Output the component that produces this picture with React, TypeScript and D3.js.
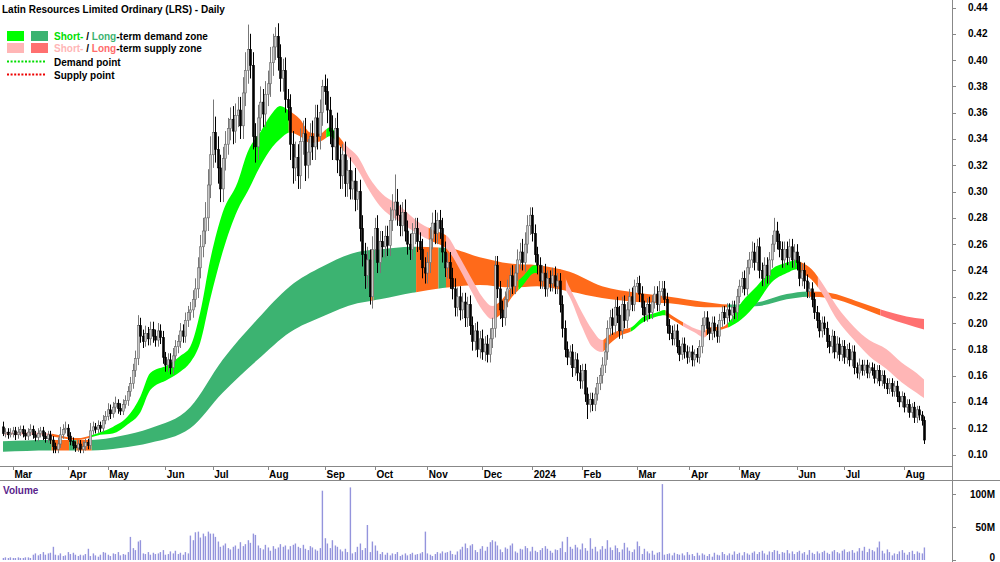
import React from "react";
import * as d3 from "d3";

// daily bars, prices in cents (0.115 -> 11.5), volume in millions
const firstOpen = 12.1;
const closes = [
  11.6, 11.7, 11.5, 11.6, 11.8, 11.5, 11.7, 11.9, 11.6, 11.4,
  11.7, 11.9, 11.5, 11.3, 11.6, 11.8, 11.4, 11.2, 11.5, 11.1,
  10.6, 10.4, 10.8, 11.5, 11.9, 12.0, 11.4, 11.0, 10.7, 10.5,
  10.8, 10.4, 10.6, 10.9, 10.7, 11.8, 12.1, 11.9, 12.2, 12.0,
  12.6, 12.9, 13.4, 13.1, 13.6, 13.9, 13.5, 13.3, 13.8, 14.1,
  14.8, 15.4, 16.4, 17.3, 19.8, 19.0, 18.6, 19.2, 18.8, 19.5,
  19.0, 18.7, 19.4, 18.9, 17.4, 16.8, 17.2, 16.6, 17.5, 18.2,
  18.6, 19.4, 19.0, 20.2, 20.8, 21.0, 21.8, 22.6, 24.2, 25.8,
  27.0, 28.0, 30.5, 32.8, 34.5, 33.2, 31.8, 30.2, 32.5, 33.6,
  34.8, 35.5, 34.6, 35.8, 36.2, 35.0, 37.5, 39.2, 40.8, 39.6,
  34.2, 33.4, 35.6, 36.8, 35.9, 37.4, 38.2, 39.8, 41.0, 41.8,
  40.2, 38.6, 39.2, 37.0, 36.4, 33.6, 31.8, 32.6, 31.2, 33.8,
  34.4, 32.0, 33.0, 34.2, 33.4, 35.6, 34.2, 36.0, 38.0, 37.6,
  36.2, 34.6, 33.4, 34.8, 32.4, 31.2, 32.8, 30.6, 31.6, 30.2,
  30.8, 29.4, 30.0, 27.2, 25.2, 23.6, 24.8, 22.0, 25.6, 27.2,
  24.6, 26.2, 25.8, 26.6, 25.9, 27.8, 28.6, 29.2, 28.2, 27.4,
  28.4, 27.0, 26.0, 25.6, 26.8, 27.2, 26.2, 25.6, 24.2, 23.8,
  24.6, 26.4, 27.6, 26.8, 27.8, 27.2, 25.4, 24.2, 24.6, 23.4,
  22.6, 21.2, 22.0, 21.0, 21.6, 20.4, 21.4, 19.8, 18.6, 19.4,
  18.0, 18.8, 17.8, 18.4, 17.6, 18.8, 19.6, 24.4, 22.6, 21.0,
  20.4, 21.8, 22.6, 23.6, 22.8, 23.8, 24.8, 25.4, 24.6, 26.0,
  27.4, 28.2, 26.8, 25.2, 24.4, 23.2, 23.8, 22.6, 23.4, 23.0,
  23.6, 22.8, 23.2, 21.4, 19.6, 18.0, 17.4, 17.8, 16.6, 17.2,
  16.2, 15.6, 16.4, 14.6, 13.8, 14.2, 13.8, 14.6, 15.4, 16.0,
  16.8, 17.8, 19.6, 20.4, 19.8, 21.2, 20.6, 19.4, 21.4, 20.2,
  21.0, 22.0, 21.4, 22.8, 23.0, 22.2, 21.2, 20.6, 21.4, 20.8,
  21.6, 22.2, 21.4, 22.4, 22.6, 21.8, 19.8, 19.2, 18.8, 19.4,
  18.2, 17.6, 18.4, 17.8, 17.4, 17.8, 17.2, 17.6, 17.4, 18.2,
  19.8, 20.4, 19.6, 19.2, 20.0, 19.4, 19.0, 20.2, 20.8, 20.4,
  21.0, 20.6, 21.2, 20.8, 22.0, 22.8, 23.4, 22.6, 24.2, 24.8,
  25.4, 24.6, 25.8, 24.0, 23.4, 24.4, 23.6, 24.8, 26.0, 27.0,
  26.2, 25.6, 24.8, 25.6, 25.0, 25.8, 24.8, 25.4, 24.6, 23.4,
  24.0, 23.2, 22.4, 22.6, 21.8, 20.8, 20.2, 19.4, 20.0, 19.6,
  18.6, 18.2, 19.0, 17.8, 18.4, 17.6, 18.2, 17.4, 18.0, 17.2,
  17.8, 16.6, 16.2, 16.8, 16.4, 16.8, 16.2, 16.6, 16.4, 15.8,
  16.4, 15.6, 16.0, 15.4, 15.0, 15.4, 14.8, 15.2, 14.4, 14.0,
  14.4, 13.6, 13.8, 13.2, 13.6, 12.8, 13.4, 13.0, 12.6, 11.1,
];
const upperWick = [
  0.4, 0.3, 0.3, 0.4, 0.3, 0.3, 0.4, 0.3, 0.3, 0.3,
  0.3, 0.4, 0.3, 0.3, 0.4, 0.3, 0.3, 0.3, 0.3, 0.3,
  0.3, 0.3, 0.5, 0.6, 0.4, 0.5, 0.3, 0.3, 0.3, 0.3,
  0.3, 0.3, 0.4, 0.3, 0.3, 0.6, 0.4, 0.3, 0.4, 0.3,
  0.4, 0.4, 0.5, 0.4, 0.4, 0.5, 0.3, 0.4, 0.4, 0.4,
  0.4, 0.5, 0.5, 0.6, 0.8, 0.6, 0.5, 0.6, 0.5, 0.6,
  0.6, 0.5, 0.6, 0.5, 0.5, 0.4, 0.5, 0.5, 0.6, 0.5,
  0.5, 0.6, 0.5, 0.6, 0.5, 0.6, 0.7, 0.8, 0.8, 0.9,
  1.0, 1.2, 1.2, 1.4, 2.5, 1.2, 1.0, 1.0, 0.9, 1.0,
  0.8, 0.9, 1.0, 0.9, 1.0, 1.0, 1.2, 1.4, 1.9, 1.2,
  1.0, 1.0, 1.0, 1.2, 1.0, 1.0, 1.0, 1.2, 1.0, 0.7,
  1.0, 1.0, 0.9, 1.0, 0.8, 1.0, 1.0, 1.2, 1.0, 1.0,
  1.0, 1.2, 1.0, 1.0, 1.2, 1.0, 1.0, 1.0, 0.5, 0.9,
  1.0, 1.0, 1.2, 0.8, 1.2, 1.0, 0.8, 1.0, 0.8, 1.0,
  0.8, 1.0, 0.8, 0.9, 1.0, 0.9, 1.0, 0.8, 1.0, 0.8,
  1.0, 0.8, 0.8, 0.8, 0.8, 1.0, 1.2, 2.1, 1.0, 0.8,
  0.8, 1.0, 0.8, 0.8, 0.8, 0.8, 0.8, 0.7, 0.8, 0.8,
  0.8, 0.9, 0.8, 1.0, 0.6, 0.8, 0.8, 0.8, 0.7, 0.8,
  0.8, 0.8, 0.7, 0.8, 0.7, 0.7, 0.6, 0.7, 0.7, 0.6,
  0.7, 0.6, 0.7, 0.6, 0.7, 0.8, 0.8, 0.7, 0.7, 0.6,
  0.7, 0.6, 0.7, 0.6, 0.8, 0.6, 0.8, 0.7, 1.0, 0.9,
  0.8, 0.6, 0.6, 0.7, 0.6, 0.6, 0.6, 0.7, 0.6, 0.6,
  0.6, 0.7, 0.6, 0.6, 0.7, 0.6, 0.6, 0.5, 0.6, 0.6,
  0.5, 0.6, 0.5, 0.5, 0.5, 0.5, 0.5, 0.5, 0.5, 0.6,
  0.6, 0.7, 0.6, 0.6, 0.7, 0.6, 0.8, 0.7, 0.6, 0.7,
  0.6, 0.6, 0.7, 0.5, 0.5, 0.6, 0.6, 0.5, 0.5, 0.6,
  0.5, 0.6, 0.6, 0.8, 0.6, 0.6, 0.5, 0.5, 0.6, 0.5,
  0.5, 0.5, 0.5, 0.5, 0.5, 0.4, 0.5, 0.4, 0.5, 0.5,
  0.6, 0.5, 0.5, 0.5, 0.5, 0.5, 0.5, 0.5, 0.5, 0.5,
  0.5, 0.5, 0.5, 0.5, 0.6, 0.5, 0.5, 0.6, 0.6, 0.6,
  0.8, 0.7, 0.6, 0.7, 0.6, 0.6, 0.6, 0.6, 0.7, 1.0,
  0.7, 0.6, 0.6, 0.6, 0.6, 0.6, 0.6, 0.6, 0.6, 0.5,
  0.5, 0.6, 0.5, 0.5, 0.5, 0.5, 0.5, 0.6, 0.5, 0.5,
  0.5, 0.5, 0.5, 0.4, 0.6, 0.5, 0.5, 0.5, 0.4, 0.5,
  0.5, 0.5, 0.4, 0.5, 0.4, 0.4, 0.4, 0.4, 0.4, 0.5,
  0.4, 0.4, 0.4, 0.4, 0.4, 0.4, 0.4, 0.4, 0.4, 0.4,
  0.4, 0.3, 0.4, 0.4, 0.3, 0.4, 0.3, 0.3, 0.3, 0.3,
];
const lowerWick = [
  0.2, 0.3, 0.3, 0.2, 0.3, 0.4, 0.3, 0.3, 0.3, 0.3,
  0.3, 0.3, 0.3, 0.3, 0.3, 0.3, 0.3, 0.3, 0.3, 0.3,
  0.5, 0.3, 0.3, 0.3, 0.3, 0.3, 0.3, 0.3, 0.3, 0.3,
  0.3, 0.3, 0.3, 0.3, 0.3, 0.3, 0.3, 0.3, 0.3, 0.3,
  0.3, 0.3, 0.3, 0.4, 0.3, 0.4, 0.4, 0.3, 0.3, 0.3,
  0.4, 0.4, 0.4, 0.5, 0.5, 0.5, 0.5, 0.4, 0.5, 0.5,
  0.5, 0.5, 0.5, 0.5, 0.5, 0.5, 0.5, 0.5, 0.5, 0.4,
  0.5, 0.5, 0.5, 0.5, 0.5, 0.6, 0.6, 0.6, 0.7, 0.8,
  0.8, 1.0, 1.0, 1.0, 1.0, 1.0, 1.2, 1.0, 1.0, 0.9,
  0.8, 0.9, 1.0, 0.9, 0.9, 1.0, 1.0, 1.0, 1.0, 1.0,
  1.0, 1.2, 1.0, 1.0, 1.0, 1.0, 0.9, 1.0, 1.0, 1.0,
  1.0, 1.0, 1.0, 1.0, 1.0, 1.2, 1.2, 1.0, 1.0, 1.0,
  1.0, 1.2, 1.0, 1.0, 1.0, 1.0, 1.0, 1.0, 1.0, 1.0,
  1.0, 1.0, 1.0, 1.0, 1.0, 1.0, 1.0, 1.0, 1.0, 0.8,
  0.8, 0.9, 0.8, 1.0, 0.9, 1.0, 0.9, 0.6, 0.9, 0.8,
  0.8, 0.8, 0.8, 0.8, 0.8, 0.8, 0.8, 0.8, 0.8, 0.8,
  0.8, 0.8, 0.8, 0.8, 0.8, 0.8, 0.8, 0.8, 0.8, 0.8,
  0.8, 0.8, 0.8, 0.8, 0.8, 0.8, 0.8, 0.7, 0.8, 0.8,
  0.8, 0.7, 0.7, 0.8, 0.7, 0.7, 0.7, 0.7, 0.7, 0.7,
  0.6, 0.7, 0.6, 0.7, 0.6, 0.6, 0.7, 0.7, 0.7, 0.7,
  0.7, 0.6, 0.6, 0.6, 0.6, 0.6, 0.6, 0.7, 0.6, 0.7,
  0.7, 0.7, 0.6, 0.6, 0.7, 0.6, 0.6, 0.6, 0.6, 0.6,
  0.6, 0.6, 0.6, 0.6, 0.7, 0.6, 0.6, 0.6, 0.7, 0.6,
  0.6, 0.6, 0.6, 0.6, 1.1, 0.6, 0.5, 0.5, 0.5, 0.5,
  0.6, 0.6, 0.6, 0.6, 0.7, 0.6, 0.6, 0.6, 0.6, 0.6,
  0.6, 0.5, 0.5, 0.5, 0.5, 0.6, 0.6, 0.5, 0.5, 0.5,
  0.5, 0.5, 0.5, 0.5, 0.5, 0.5, 0.6, 0.5, 0.5, 0.5,
  0.5, 0.5, 0.4, 0.5, 0.5, 0.4, 0.5, 0.5, 0.4, 0.5,
  0.5, 0.5, 0.5, 0.5, 0.5, 0.5, 0.5, 0.5, 0.5, 0.5,
  0.5, 0.5, 0.5, 0.5, 0.5, 0.5, 0.5, 0.5, 0.5, 0.5,
  0.6, 0.6, 0.6, 0.6, 0.6, 0.6, 0.6, 0.6, 0.6, 0.6,
  0.6, 0.6, 0.6, 0.6, 0.6, 0.6, 0.6, 0.6, 0.6, 0.6,
  0.6, 0.6, 0.5, 0.5, 0.6, 0.5, 0.6, 0.5, 0.5, 0.5,
  0.5, 0.5, 0.5, 0.5, 0.5, 0.5, 0.5, 0.5, 0.5, 0.5,
  0.5, 0.5, 0.4, 0.5, 0.4, 0.4, 0.4, 0.4, 0.4, 0.4,
  0.4, 0.4, 0.4, 0.4, 0.4, 0.4, 0.4, 0.4, 0.4, 0.4,
  0.4, 0.4, 0.4, 0.4, 0.4, 0.4, 0.4, 0.4, 0.4, 0.3,
];
const volumes = [
  3, 4, 3, 4, 3, 3, 4, 3, 3, 4,
  4, 3, 8, 10, 7, 9, 12, 8, 10, 11,
  20, 8, 7, 10, 6, 7, 12, 9, 11, 8,
  6, 8, 7, 9, 17, 6, 10, 7, 5, 8,
  12, 11, 8, 6, 10, 9, 12, 7, 9, 8,
  12, 35, 18, 15, 28, 30, 10, 9, 12, 8,
  11, 9, 10, 12, 15, 8, 9, 13, 10, 14,
  9, 11, 8, 12, 10, 37, 30, 42, 43, 34,
  40, 36, 43, 40, 40, 35, 28, 20, 22, 25,
  18, 16, 20, 22, 17, 27, 21, 24, 30, 26,
  40, 38, 22, 18, 16, 23, 19, 14, 21, 17,
  19, 24, 20, 22, 16, 21, 23, 25, 20, 18,
  23, 17, 15, 21, 19, 16, 14, 18, 105, 33,
  25, 18, 30, 22, 20, 16, 13, 17, 12, 110,
  10, 12, 20, 25, 15, 18, 53, 12, 28, 22,
  14, 9, 12, 8, 11, 7, 10, 9, 12, 6,
  8, 10, 7, 9, 11, 8, 9, 10, 12, 43,
  10, 8, 6, 9, 12, 10, 13, 11, 12, 14,
  9, 8, 13, 16, 20, 25, 18, 22, 24, 15,
  12, 17, 21, 14, 20, 27, 30, 28, 22, 16,
  12, 19, 17, 22, 25, 13, 11, 17, 16, 21,
  18, 13, 20, 14, 12, 15, 18, 21, 17, 14,
  11, 16, 15, 18, 28, 12, 35, 20, 17, 23,
  19, 16, 25, 18, 14, 33, 17, 20, 13, 16,
  21, 17, 30, 19, 15, 22, 18, 12, 16, 26,
  19, 14, 12, 16, 28, 21, 9, 17, 13, 10,
  14, 8, 11, 12, 115, 8, 9, 10, 7, 11,
  9, 8, 10, 7, 12, 8, 9, 6, 11, 7,
  10, 8, 6, 9, 5, 11, 8, 7, 12, 9,
  7, 10, 8, 13, 9, 11, 7, 12, 10, 8,
  11, 13, 9, 12, 14, 10, 8, 13, 12, 15,
  14, 9, 12, 11, 15, 10, 13, 9, 12, 14,
  10, 12, 8, 15, 11, 9, 13, 10, 12, 14,
  11, 9, 13, 15, 12, 10, 14, 16, 12, 13,
  15, 11, 13, 18, 14, 20, 12, 17, 15, 13,
  19, 28, 14, 10, 16, 12, 7, 10, 9, 13,
  15, 11, 8, 12, 14, 9, 13, 11, 10, 19,
];

// short-term zone edges, sampled at bar indexes
const stIdx = [0, 10, 19, 25, 30, 35, 39, 44, 50, 55, 59, 66, 71, 75, 79, 83, 88, 94, 98, 103, 108, 111, 115, 119, 123, 127, 131, 134, 138, 142, 147, 151, 159, 167, 172, 178, 183, 188, 192, 196, 199, 204, 208, 213, 215, 220, 223, 227, 232, 236, 240, 243, 248, 252, 256, 262, 265, 267, 273, 277, 281, 283, 288, 291, 296, 302, 308, 314, 318, 320, 324, 328, 334, 341, 347, 354, 360, 366, 369];
const stLo = [11.5, 11.5, 11.4, 11.2, 11.1, 11.3, 11.5, 11.6, 12.3, 13.2, 14.9, 15.7, 16.3, 17.0, 18.5, 21.8, 25.4, 28.6, 30.0, 31.9, 33.4, 34.0, 34.5, 34.2, 33.7, 33.8, 34.2, 33.7, 32.7, 31.7, 30.0, 28.9, 27.7, 26.7, 26.2, 25.6, 24.1, 22.3, 21.0, 20.3, 20.6, 22.0, 22.8, 23.8, 23.8, 23.4, 23.1, 22.0, 19.7, 18.2, 17.8, 18.4, 19.1, 19.4, 20.0, 20.5, 20.6, 20.4, 19.7, 19.3, 18.9, 19.3, 19.5, 19.7, 20.3, 21.5, 23.1, 23.8, 24.1, 23.8, 23.3, 22.3, 20.3, 18.7, 17.5, 16.5, 15.5, 14.7, 14.3];
const stHi = [11.7, 11.7, 11.6, 11.35, 11.25, 11.45, 11.7, 12.1, 12.9, 14.4, 16.2, 16.8, 17.5, 18.2, 20.8, 24.8, 28.4, 30.7, 33.0, 34.5, 36.0, 36.5, 36.1, 35.5, 34.5, 34.4, 34.9, 34.3, 33.4, 32.7, 31.0, 30.0, 28.9, 27.6, 27.1, 26.6, 25.0, 23.3, 22.0, 21.3, 21.6, 22.8, 23.5, 24.4, 24.3, 24.1, 24.1, 22.7, 20.8, 19.5, 18.7, 19.1, 19.5, 19.7, 20.4, 20.8, 21.0, 20.7, 20.0, 19.6, 19.4, 19.7, 19.7, 20.1, 21.6, 22.8, 24.1, 24.6, 24.8, 24.6, 24.1, 23.1, 21.3, 19.7, 18.7, 18.0, 17.0, 16.2, 15.7];

// long-term zone edges
const ltIdx = [0, 19, 35, 47, 59, 75, 88, 102, 115, 128, 142, 151, 164, 178, 191, 204, 214, 227, 240, 254, 267, 281, 291, 303, 314, 323, 331, 343, 354, 362, 369];
const ltLo = [10.2, 10.3, 10.3, 10.5, 10.9, 12.0, 14.7, 17.2, 19.3, 20.5, 21.5, 21.8, 22.3, 22.7, 22.9, 22.7, 22.8, 22.4, 21.9, 21.6, 21.5, 21.2, 21.2, 21.3, 21.8, 22.0, 21.9, 21.2, 20.4, 19.9, 19.5];
const ltHi = [11.0, 11.1, 11.1, 11.4, 12.0, 13.6, 17.2, 20.3, 22.8, 24.3, 25.4, 25.6, 25.8, 25.7, 25.0, 24.5, 24.4, 23.9, 22.8, 22.3, 22.0, 21.6, 21.4, 21.6, 22.2, 22.4, 22.3, 21.6, 20.9, 20.5, 20.3];

// zone state by bar range: d = demand, s = supply, w = warning
const stRuns: [number, number, string][] = [
  [0, 19, "s"], [20, 35, "w"], [36, 114, "d"], [115, 129, "w"], [130, 133, "d"], [134, 136, "w"],
  [137, 170, "s"], [171, 177, "w"], [178, 197, "s"], [198, 206, "w"], [207, 214, "d"], [215, 225, "w"],
  [226, 240, "s"], [241, 251, "w"], [252, 265, "d"], [266, 272, "w"], [273, 281, "s"], [282, 290, "w"],
  [291, 319, "d"], [320, 326, "w"], [327, 369, "s"],
];
const ltRuns: [number, number, string][] = [
  [0, 19, "d"], [20, 26, "w"], [27, 29, "d"], [30, 35, "w"], [36, 147, "d"], [148, 148, "w"],
  [149, 165, "d"], [166, 174, "w"], [175, 177, "d"], [178, 290, "w"], [291, 322, "d"], [323, 351, "w"],
  [352, 369, "s"],
];

const monthLabels = ["Mar", "Apr", "May", "Jun", "Jul", "Aug", "Sep", "Oct", "Nov", "Dec", "2024", "Feb", "Mar", "Apr", "May", "Jun", "Jul", "Aug"];
const monthIdx = [4, 26, 42, 65, 84, 106, 129, 149, 170, 192, 212, 232, 254, 275, 295, 318, 337, 361];
const priceTicks = [10, 12, 14, 16, 18, 20, 22, 24, 26, 28, 30, 32, 34, 36, 38, 40, 42, 44];
const volumeTicks = [0, 50, 100];

const FONT = "'Liberation Sans', Arial, sans-serif";
const colors: Record<string, Record<string, string>> = {
  st: { d: "#00ff00", s: "#ffb6b6", w: "#ff6a1a" },
  lt: { d: "#3cb371", s: "#ff7070", w: "#ff6a1a" },
};

export default function App() {
  const n = closes.length;
  const x = d3.scaleLinear().domain([0, n - 1]).range([3, 924]);
  const y = d3.scaleLinear().domain([10, 44]).range([454.5, 7.5]);
  const yv = d3.scaleLinear().domain([0, 100]).range([560, 494]);

  const band = (idx: number[], lo: number[], hi: number[]) =>
    d3.area<number>()
      .x(k => x(idx[k]))
      .y0(k => y(lo[k]))
      .y1(k => y(hi[k]))
      .curve(d3.curveMonotoneX)(d3.range(idx.length)) as string;

  const stPath = band(stIdx, stLo, stHi);
  const ltPath = band(ltIdx, ltLo, ltHi);
  const step = x(1) - x(0);

  const bars = closes.map((c, i) => {
    const o = i === 0 ? firstOpen : closes[i - 1];
    return { i, o, c, h: Math.max(o, c) + upperWick[i], l: Math.min(o, c) - lowerWick[i], up: c >= o };
  });

  const runClip = (name: string, runs: [number, number, string][]) =>
    runs.map(([a, b], k) => (
      <clipPath id={`${name}${k}`} key={`${name}${k}`}>
        <rect x={x(a) - step / 2} y={0} width={x(b) - x(a) + step} height={470} />
      </clipPath>
    ));

  return (
    <svg width={1000} height={562} style={{ position: "absolute", left: 0, top: 0, background: "#fff" }} fontFamily={FONT}>
      <defs>
        {runClip("lt", ltRuns)}
        {runClip("st", stRuns)}
      </defs>

      {/* zones */}
      {ltRuns.map(([, , s], k) => (
        <path key={`lt${k}`} d={ltPath} fill={colors.lt[s]} clipPath={`url(#lt${k})`} />
      ))}
      {stRuns.map(([, , s], k) => (
        <path key={`st${k}`} d={stPath} fill={colors.st[s]} clipPath={`url(#st${k})`} />
      ))}

      {/* candles */}
      {bars.map(b => {
        const cx = Math.round(x(b.i)) + 0.5;
        const top = y(Math.max(b.o, b.c));
        const bot = y(Math.min(b.o, b.c));
        return (
          <g key={b.i}>
            <line x1={cx} x2={cx} y1={y(b.h)} y2={y(b.l)} stroke={b.up ? "#777" : "#000"} strokeWidth={1} />
            <rect x={cx - 1} y={top} width={2} height={Math.max(1, bot - top)}
              fill={b.up ? "#c8c8c8" : "#000"} stroke={b.up ? "#666" : "#000"} strokeWidth={0.6} />
          </g>
        );
      })}

      {/* volume */}
      {volumes.map((v, i) => (
        <rect key={i} x={Math.round(x(i)) - 0.3} y={yv(v)} width={1.4} height={yv(0) - yv(v)} fill="#9494dc" />
      ))}
      <text x={3} y={494} fontSize={10} fontWeight="bold" fill="#5a1f8c">Volume</text>

      {/* frame */}
      <line x1={0} x2={952} y1={466.5} y2={466.5} stroke="#888" />
      <line x1={0} x2={1000} y1={480.5} y2={480.5} stroke="#888" />
      <line x1={952.5} x2={952.5} y1={0} y2={562} stroke="#888" />

      {/* price axis */}
      {priceTicks.map(t => (
        <g key={t}>
          <line x1={952} x2={956} y1={Math.round(y(t)) + 0.5} y2={Math.round(y(t)) + 0.5} stroke="#888" />
          <text x={968} y={y(t) + 3.5} fontSize={10} fontWeight="bold" fill="#000">{(t / 100).toFixed(2)}</text>
        </g>
      ))}
      {volumeTicks.map(t => (
        <g key={t}>
          <line x1={952} x2={956} y1={Math.round(yv(t)) + 0.5} y2={Math.round(yv(t)) + 0.5} stroke="#888" />
          <text x={995} y={t === 0 ? 561 : yv(t) + 3.5} fontSize={10} fontWeight="bold" textAnchor="end" fill="#000">{t === 0 ? "0" : `${t}M`}</text>
        </g>
      ))}

      {/* months */}
      {monthIdx.map((m, k) => (
        <g key={k}>
          <line x1={Math.round(x(m)) + 0.5} x2={Math.round(x(m)) + 0.5} y1={466} y2={470} stroke="#888" />
          <text x={x(m) + 1.5} y={477.5} fontSize={10} fontWeight="bold" fill="#000">{monthLabels[k]}</text>
        </g>
      ))}

      {/* title and legend */}
      <text x={2} y={13} fontSize={10} fontWeight="bold" fill="#000">Latin Resources Limited Ordinary (LRS) - Daily</text>
      <rect x={7} y={31} width={17} height={10} fill={colors.st.d} />
      <rect x={31} y={31} width={17} height={10} fill={colors.lt.d} />
      <text x={54} y={40} fontSize={10} fontWeight="bold" fill="#000">
        <tspan fill="#00e000">Short-</tspan> / <tspan fill="#3cb371">Long</tspan>-term demand zone
      </text>
      <rect x={7} y={43} width={17} height={10} fill={colors.st.s} />
      <rect x={31} y={43} width={17} height={10} fill={colors.lt.s} />
      <text x={54} y={52} fontSize={10} fontWeight="bold" fill="#000">
        <tspan fill="#ffb6b6">Short-</tspan> / <tspan fill="#ff6b6b">Long</tspan>-term supply zone
      </text>
      <line x1={7} x2={45} y1={61.5} y2={61.5} stroke="#00dd00" strokeWidth={2} strokeDasharray="2 1.6" />
      <text x={54} y={65.5} fontSize={10} fontWeight="bold" fill="#000">Demand point</text>
      <line x1={7} x2={45} y1={74.5} y2={74.5} stroke="#ee0000" strokeWidth={2} strokeDasharray="2 1.6" />
      <text x={54} y={78.5} fontSize={10} fontWeight="bold" fill="#000">Supply point</text>
    </svg>
  );
}
